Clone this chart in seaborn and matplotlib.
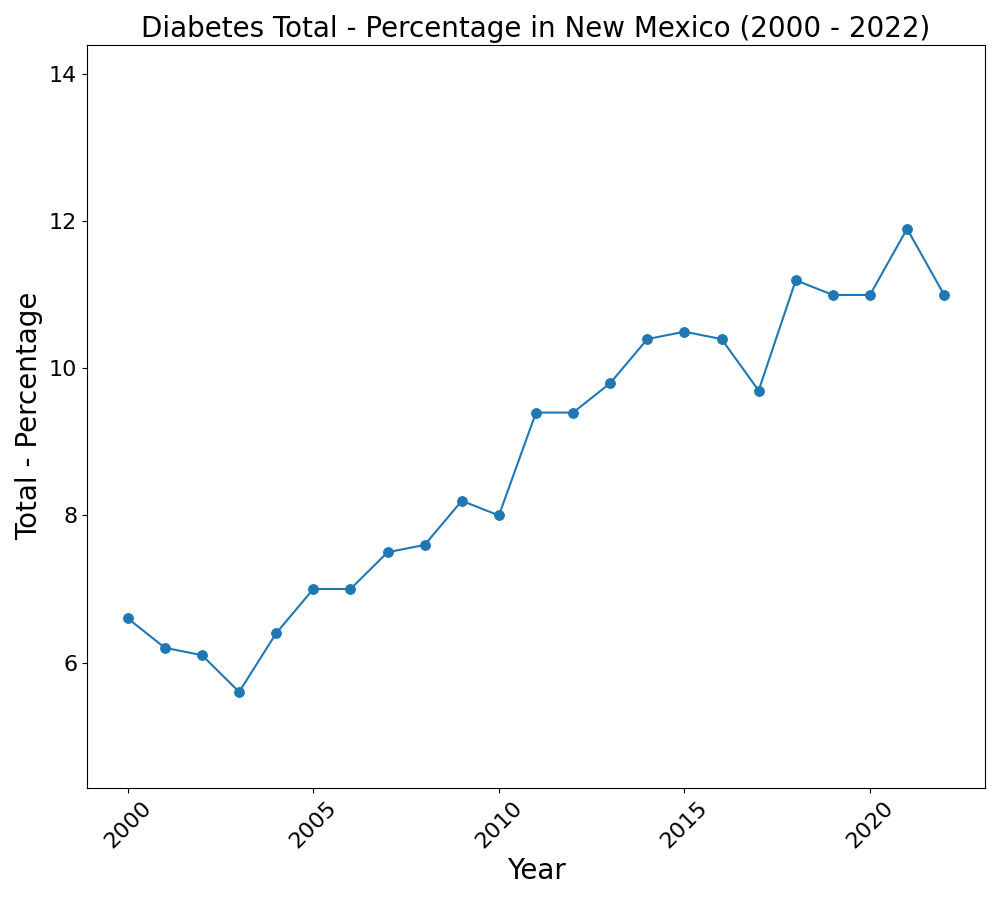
import matplotlib
matplotlib.use("Agg")
import matplotlib.pyplot as plt
import seaborn as sns
import pandas as pd

years = list(range(2000, 2023))
values = [6.6, 6.2, 6.1, 5.6, 6.4, 7.0, 7.0, 7.5, 7.6, 8.2, 8.0, 9.4, 9.4,
          9.8, 10.4, 10.5, 10.4, 9.7, 11.2, 11.0, 11.0, 11.9, 11.0]

df = pd.DataFrame({"Year": years, "Value": values})

fig, ax = plt.subplots(figsize=(10, 9), dpi=100)
sns.lineplot(data=df, x="Year", y="Value", marker="o", color="#1f77b4",
             markeredgecolor="#1f77b4", markersize=7, ax=ax)

ax.set_title("Diabetes Total - Percentage in New Mexico (2000 - 2022)", fontsize=20)
ax.set_xlabel("Year", fontsize=20)
ax.set_ylabel("Total - Percentage", fontsize=20)
ax.set_ylim(min(values) - 1.3, max(values) + 2.5)
ax.set_xticks([2000, 2005, 2010, 2015, 2020])
ax.tick_params(axis="both", labelsize=16)
plt.setp(ax.get_xticklabels(), rotation=45)

plt.subplots_adjust(left=0.087, right=0.985, top=0.95, bottom=0.125)
fig.savefig("out.png")
